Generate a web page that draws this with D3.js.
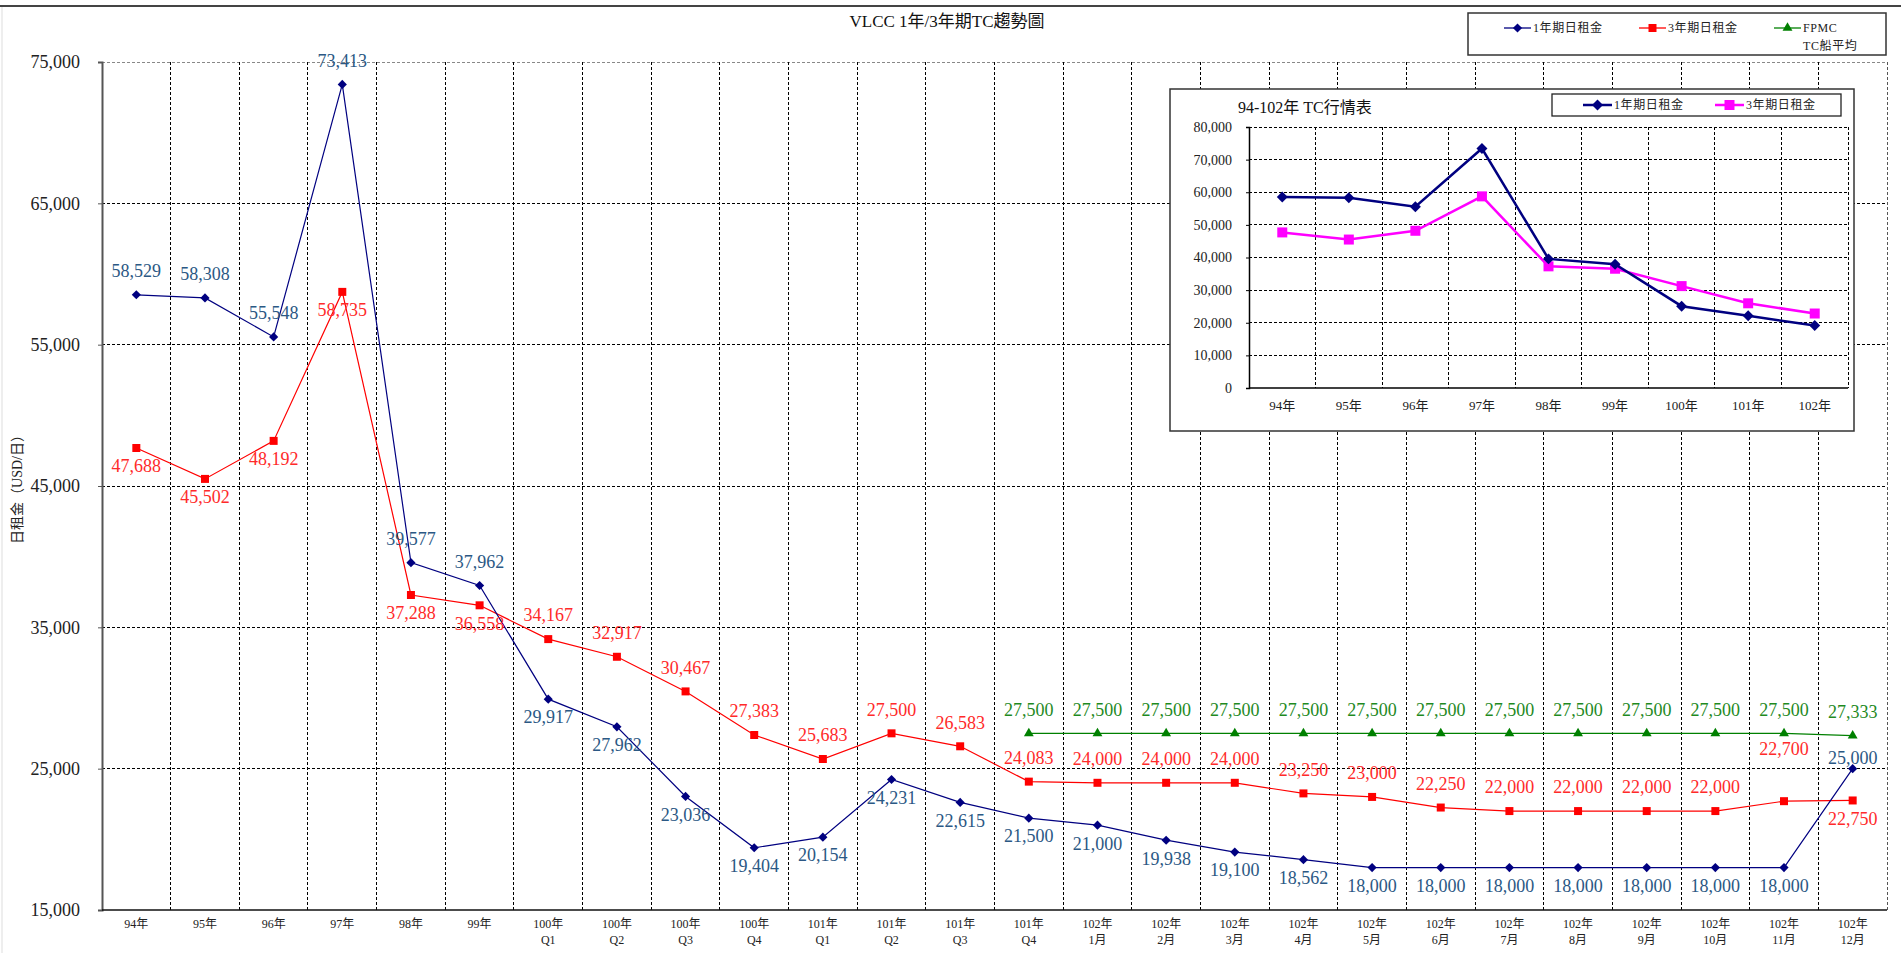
<!DOCTYPE html>
<html>
<head>
<meta charset="utf-8">
<script src="https://cdn.jsdelivr.net/npm/d3@7"></script>
<style>
  body { margin: 0; background: #fff; }
  svg { display: block; }
  text { font-family: "Liberation Serif", "Noto Sans CJK TC", serif; }
</style>
</head>
<body>
<svg id="chart" width="1901" height="953"></svg>
<script>
// ---- main chart data ----
const categories = [
  "94年", "95年", "96年", "97年", "98年", "99年",
  "100年\nQ1", "100年\nQ2", "100年\nQ3", "100年\nQ4",
  "101年\nQ1", "101年\nQ2", "101年\nQ3", "101年\nQ4",
  "102年\n1月", "102年\n2月", "102年\n3月", "102年\n4月", "102年\n5月", "102年\n6月",
  "102年\n7月", "102年\n8月", "102年\n9月", "102年\n10月", "102年\n11月", "102年\n12月"
];
const oneYearRate = [
  58529, 58308, 55548, 73413, 39577, 37962,
  29917, 27962, 23036, 19404,
  20154, 24231, 22615, 21500,
  21000, 19938, 19100, 18562, 18000, 18000,
  18000, 18000, 18000, 18000, 18000, 25000
];
const threeYearRate = [
  47688, 45502, 48192, 58735, 37288, 36558,
  34167, 32917, 30467, 27383,
  25683, 27500, 26583, 24083,
  24000, 24000, 24000, 23250, 23000, 22250,
  22000, 22000, 22000, 22000, 22700, 22750
];
const fpmcAverage = [
  null, null, null, null, null, null,
  null, null, null, null,
  null, null, null, 27500,
  27500, 27500, 27500, 27500, 27500, 27500,
  27500, 27500, 27500, 27500, 27500, 27333
];
const mainTicks = [15000, 25000, 35000, 45000, 55000, 65000, 75000];

// ---- inset (yearly) data ----
const yearCategories = ["94年", "95年", "96年", "97年", "98年", "99年", "100年", "101年", "102年"];
const yearOneRate = [58529, 58308, 55548, 73413, 39577, 37962, 25080, 22125, 19133];
const yearThreeRate = [47688, 45502, 48192, 58735, 37288, 36558, 31234, 25962, 22829];
const insetTicks = [0, 10000, 20000, 30000, 40000, 50000, 60000, 70000, 80000];

// value-label placement (a = above, b = below, h = raised further, l = just above)
const oneYearLabelAt = ["a","a","a","a","a","a","b","b","b","b","b","b","b","b","b","b","b","b","b","b","b","b","b","b","b","l"];
const threeYearLabelAt = ["b","b","b","b","b","b","a","a","a","a","a","a","a","a","a","a","a","a","a","a","a","a","a","a","h","b"];

const NAVY = "#000080", RED = "#ff0000", GREEN = "#008000", MAGENTA = "#ff00ff";
const NAVY_TXT = "#2b5884", RED_TXT = "#ff2a2a", GREEN_TXT = "#1f8a1f";
const fmt = d3.format(",");

const svg = d3.select("#chart");

// outer frame
svg.append("line").attr("x1", 0).attr("x2", 1901).attr("y1", 6).attr("y2", 6)
  .attr("stroke", "#444").attr("stroke-width", 2);
svg.append("line").attr("x1", 2).attr("x2", 2).attr("y1", 7).attr("y2", 953)
  .attr("stroke", "#ddd").attr("stroke-width", 1);

// ---- main plot ----
const plot = { left: 102, right: 1887, top: 62, bottom: 910 };
const x = d3.scaleBand().domain(d3.range(categories.length)).range([plot.left, plot.right]);
const y = d3.scaleLinear().domain([15000, 75000]).range([plot.bottom, plot.top]);
const cx = i => x(i) + x.bandwidth() / 2;

// horizontal grid
svg.append("g").selectAll("line").data(mainTicks.slice(1)).join("line")
  .attr("x1", plot.left).attr("x2", plot.right)
  .attr("y1", d => y(d)).attr("y2", d => y(d))
  .attr("stroke", (d, i, n) => i === n.length - 1 ? "#888" : "#000")
  .attr("stroke-width", 1).attr("stroke-dasharray", "3,2")
  .attr("shape-rendering", "crispEdges");

// vertical grid at category boundaries
svg.append("g").selectAll("line").data(d3.range(1, categories.length + 1)).join("line")
  .attr("x1", k => plot.left + k * x.step()).attr("x2", k => plot.left + k * x.step())
  .attr("y1", plot.top).attr("y2", plot.bottom)
  .attr("stroke", k => k === categories.length ? "#555" : "#000")
  .attr("stroke-width", 1).attr("stroke-dasharray", "3,2")
  .attr("shape-rendering", "crispEdges");

// y axis
const yAxis = svg.append("g").attr("transform", `translate(${plot.left},0)`)
  .call(d3.axisLeft(y).tickValues(mainTicks).tickFormat(fmt).tickSize(4).tickPadding(18));
yAxis.select(".domain").attr("stroke", "#555").attr("stroke-width", 2);
yAxis.selectAll(".tick line").attr("stroke", "#555");
yAxis.selectAll(".tick text").attr("font-size", 18).attr("fill", "#222")
  .attr("font-family", "Liberation Serif");

// x axis baseline
svg.append("line").attr("x1", plot.left).attr("x2", plot.right)
  .attr("y1", plot.bottom).attr("y2", plot.bottom)
  .attr("stroke", "#111").attr("stroke-width", 1.5);

// category labels
const xl = svg.append("g").selectAll("text").data(categories).join("text")
  .attr("x", (d, i) => cx(i)).attr("y", 928)
  .attr("text-anchor", "middle").attr("font-size", 12).attr("fill", "#222");
xl.each(function (d, i) {
  const parts = d.split("\n");
  d3.select(this).selectAll("tspan").data(parts).join("tspan")
    .attr("x", cx(i)).attr("dy", (p, j) => j === 0 ? 0 : 16).text(p => p);
});

// y axis title
svg.append("text").attr("transform", "translate(22,486) rotate(-90)")
  .attr("text-anchor", "middle").attr("font-size", 14).attr("fill", "#222")
  .text("日租金（USD/日）");

// title
svg.append("text").attr("x", 947).attr("y", 27).attr("text-anchor", "middle")
  .attr("font-size", 17).attr("fill", "#111").text("VLCC 1年/3年期TC趨勢圖");

// series
const diamond = d3.symbol(d3.symbolSquare, 42)();
const square = d3.symbol(d3.symbolSquare, 64)();
const triangle = d3.symbol(d3.symbolTriangle, 42)();

function drawSeries(values, color, width, shape, rotate) {
  const line = d3.line().defined(d => d != null).x((d, i) => cx(i)).y(d => y(d));
  svg.append("path").datum(values).attr("d", line)
    .attr("fill", "none").attr("stroke", color).attr("stroke-width", width);
  svg.append("g").selectAll("path")
    .data(values.map((v, i) => ({ v, i })).filter(d => d.v != null)).join("path")
    .attr("d", shape).attr("fill", color)
    .attr("transform", d => `translate(${cx(d.i)},${y(d.v)}) rotate(${rotate})`);
}
function drawLabels(values, color, places) {
  const dyOf = { a: -24, b: 18, h: -52, l: -11 };
  svg.append("g").selectAll("text")
    .data(values.map((v, i) => ({ v, i })).filter(d => d.v != null)).join("text")
    .attr("x", d => cx(d.i))
    .attr("y", d => y(d.v) + (places ? dyOf[places[d.i]] : dyOf.a))
    .attr("dy", "0.35em").attr("text-anchor", "middle")
    .attr("font-size", 18).attr("fill", color).text(d => fmt(d.v));
}

drawSeries(threeYearRate, RED, 1.2, square, 0);
drawSeries(oneYearRate, NAVY, 1.2, diamond, 45);
drawSeries(fpmcAverage, GREEN, 1.3, triangle, 0);
drawLabels(oneYearRate, NAVY_TXT, oneYearLabelAt);
drawLabels(threeYearRate, RED_TXT, threeYearLabelAt);
drawLabels(fpmcAverage, GREEN_TXT, null);

// main legend
const lg = svg.append("g");
lg.append("rect").attr("x", 1468).attr("y", 13).attr("width", 418).attr("height", 42)
  .attr("fill", "#fff").attr("stroke", "#333").attr("stroke-width", 1.5);
const legendItems = [
  { label: ["1年期日租金"], color: NAVY, shape: diamond, rot: 45, x0: 1504 },
  { label: ["3年期日租金"], color: RED, shape: square, rot: 0, x0: 1639 },
  { label: ["FPMC", "TC船平均"], color: GREEN, shape: triangle, rot: 0, x0: 1774 }
];
legendItems.forEach(it => {
  lg.append("line").attr("x1", it.x0).attr("x2", it.x0 + 27).attr("y1", 28).attr("y2", 28)
    .attr("stroke", it.color).attr("stroke-width", 1.3);
  lg.append("path").attr("d", it.shape).attr("fill", it.color)
    .attr("transform", `translate(${it.x0 + 13.5},28) rotate(${it.rot})`);
  it.label.forEach((t, j) => {
    lg.append("text").attr("x", it.x0 + 29).attr("y", 28 + j * 18).attr("dy", "0.35em")
      .attr("font-size", 12).attr("letter-spacing", 0.6).attr("fill", "#222").text(t);
  });
});

// ---- inset: yearly averages ----
const box = { left: 1170, top: 89, right: 1854, bottom: 431 };
const ip = { left: 1249, right: 1848, top: 127, bottom: 388 };
const ins = svg.append("g");
ins.append("rect").attr("x", box.left).attr("y", box.top)
  .attr("width", box.right - box.left).attr("height", box.bottom - box.top)
  .attr("fill", "#fff").attr("stroke", "#333").attr("stroke-width", 1.5);

const x2 = d3.scaleBand().domain(d3.range(yearCategories.length)).range([ip.left, ip.right]);
const y2 = d3.scaleLinear().domain([0, 80000]).range([ip.bottom, ip.top]);
const cx2 = i => x2(i) + x2.bandwidth() / 2;

ins.append("g").selectAll("line").data(insetTicks.slice(1)).join("line")
  .attr("x1", ip.left).attr("x2", ip.right)
  .attr("y1", d => y2(d)).attr("y2", d => y2(d))
  .attr("stroke", "#000").attr("stroke-dasharray", "3,2").attr("shape-rendering", "crispEdges");
ins.append("g").selectAll("line").data(d3.range(1, yearCategories.length + 1)).join("line")
  .attr("x1", k => ip.left + k * x2.step()).attr("x2", k => ip.left + k * x2.step())
  .attr("y1", ip.top).attr("y2", ip.bottom)
  .attr("stroke", "#000").attr("stroke-dasharray", "3,2").attr("shape-rendering", "crispEdges");

const y2Axis = ins.append("g").attr("transform", `translate(${ip.left},0)`)
  .call(d3.axisLeft(y2).tickValues(insetTicks).tickFormat(fmt).tickSize(3).tickPadding(14));
y2Axis.select(".domain").attr("stroke", "#000").attr("stroke-width", 1.5);
y2Axis.selectAll(".tick line").attr("stroke", "#000");
y2Axis.selectAll(".tick text").attr("font-size", 14).attr("fill", "#222")
  .attr("font-family", "Liberation Serif");
ins.append("line").attr("x1", ip.left).attr("x2", ip.right)
  .attr("y1", ip.bottom).attr("y2", ip.bottom).attr("stroke", "#000").attr("stroke-width", 1.5);

ins.append("g").selectAll("text").data(yearCategories).join("text")
  .attr("x", (d, i) => cx2(i)).attr("y", 405).attr("dy", "0.35em")
  .attr("text-anchor", "middle").attr("font-size", 13).attr("fill", "#222").text(d => d);

ins.append("text").attr("x", 1238).attr("y", 107).attr("dy", "0.35em")
  .attr("font-size", 16).attr("fill", "#111").text("94-102年 TC行情表");

const bigDiamond = d3.symbol(d3.symbolSquare, 60)();
const bigSquare = d3.symbol(d3.symbolSquare, 100)();
function drawInset(values, color, shape, rot) {
  const line = d3.line().x((d, i) => cx2(i)).y(d => y2(d));
  ins.append("path").datum(values).attr("d", line)
    .attr("fill", "none").attr("stroke", color).attr("stroke-width", 2.5);
  ins.append("g").selectAll("path").data(values).join("path")
    .attr("d", shape).attr("fill", color)
    .attr("transform", (d, i) => `translate(${cx2(i)},${y2(d)}) rotate(${rot})`);
}
drawInset(yearThreeRate, MAGENTA, bigSquare, 0);
drawInset(yearOneRate, NAVY, bigDiamond, 45);

// inset legend
ins.append("rect").attr("x", 1552).attr("y", 94).attr("width", 289).attr("height", 22)
  .attr("fill", "#fff").attr("stroke", "#222").attr("stroke-width", 1.3);
[
  { t: "1年期日租金", c: NAVY, s: bigDiamond, r: 45, x0: 1583 },
  { t: "3年期日租金", c: MAGENTA, s: bigSquare, r: 0, x0: 1715 }
].forEach(it => {
  ins.append("line").attr("x1", it.x0).attr("x2", it.x0 + 29).attr("y1", 105).attr("y2", 105)
    .attr("stroke", it.c).attr("stroke-width", 2.5);
  ins.append("path").attr("d", it.s).attr("fill", it.c)
    .attr("transform", `translate(${it.x0 + 14.5},105) rotate(${it.r})`);
  ins.append("text").attr("x", it.x0 + 31).attr("y", 105).attr("dy", "0.35em")
    .attr("font-size", 12).attr("letter-spacing", 0.6).attr("fill", "#222").text(it.t);
});
</script>
</body>
</html>
